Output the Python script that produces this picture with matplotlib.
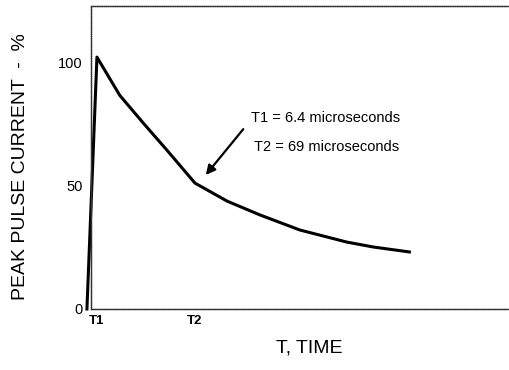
import matplotlib.pyplot as plt

plt.rcParams['font.family'] = ['Liberation Sans', 'DejaVu Sans']

# pulse waveform, time in microseconds, current in % of peak
time_us = [0, 6.4, 21, 36, 51, 69, 89.5, 110.5, 136, 166, 183, 206]
current_pct = [0, 102, 86.5, 75.3, 64.4, 51, 43.7, 38.1, 32, 27.1, 25.1, 23.1]

tick_pos = [6.4, 69]
tick_labels = ["T1", "T2"]
ytick_pos = [0, 50, 100]
ytick_labels = ["0", "50", "100"]

fig = plt.figure(figsize=(5.09, 3.70), dpi=100)
ax = fig.add_axes([91 / 509, 1 - 309 / 370, 417 / 509, 303 / 370])

ax.plot(time_us, current_pct, color="black", lw=2.2, clip_on=False, solid_joinstyle="round")

ax.set_xlim(2.6, 269)
ax.set_ylim(0, 122.7)

ax.set_xticks(tick_pos)
ax.set_xticklabels(tick_labels, fontsize=9.5, fontweight="bold")
ax.set_yticks(ytick_pos)
ax.set_yticklabels(ytick_labels, fontsize=10.5)
ax.tick_params(length=0, pad=6)
ax.tick_params(axis="x", pad=4)

for s in ["top", "bottom", "left"]:
    ax.spines[s].set_linestyle((0, (1, 0.6)))
    ax.spines[s].set_linewidth(1.0)
    ax.spines[s].set_color("#333333")
ax.spines["right"].set_visible(False)

ax.text(104.5, 77.5, "T1 = 6.4 microseconds", fontsize=10.5, va="center")
ax.text(107, 65.7, "T2 = 69 microseconds", fontsize=10.5, va="center")
ax.annotate("", xy=(74.8, 53.4), xytext=(101, 73.7),
            arrowprops=dict(arrowstyle="-|>", color="black", lw=1.6, mutation_scale=14))

fig.text(21 / 509, 1 - 167 / 370, "PEAK PULSE CURRENT  -  %", rotation=90,
         fontsize=14, ha="center", va="center")
fig.text(309 / 509, 1 - 348 / 370, "T, TIME", fontsize=14, ha="center", va="center")

fig.savefig("out.png", dpi=100)
